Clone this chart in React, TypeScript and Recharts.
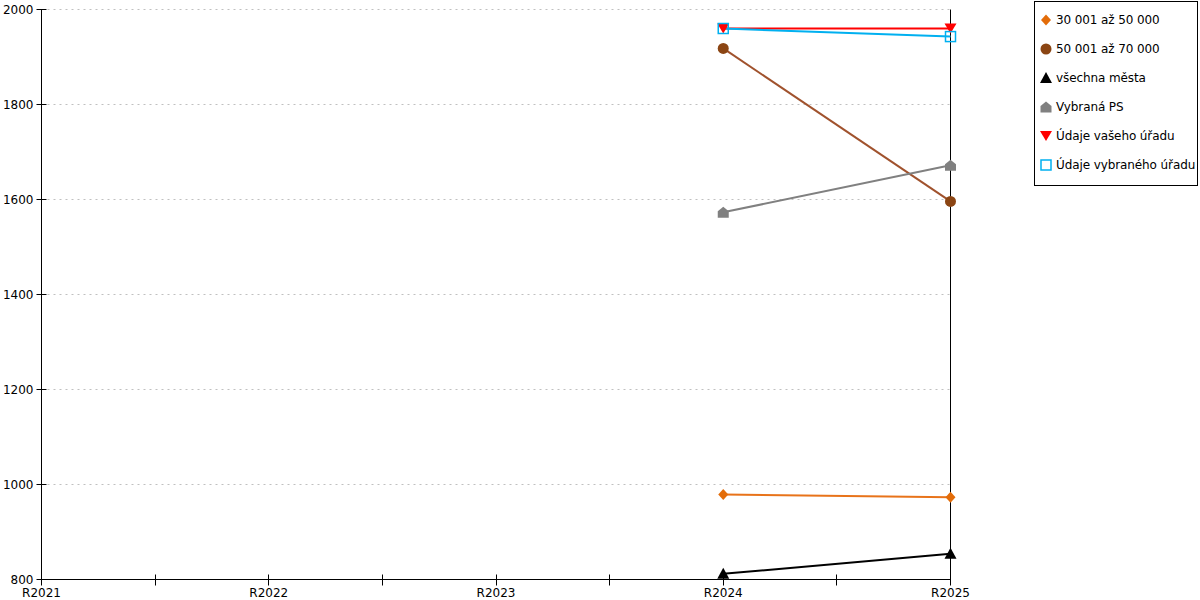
import { LineChart, Line, XAxis, YAxis, CartesianGrid, ReferenceLine } from 'recharts'

const categories = ['R2021', 'R2022', 'R2023', 'R2024', 'R2025']
const pop30to50 = [null, null, null, 979, 973]
const pop50to70 = [null, null, null, 1918, 1596]
const allCities = [null, null, null, 812, 854]
const selectedPS = [null, null, null, 1573, 1672]
const yourOffice = [null, null, null, 1960, 1960]
const selectedOffice = [null, null, null, 1960, 1943]
const yTicks = [800, 1000, 1200, 1400, 1600, 1800, 2000]
const xTicks = [0, 0.5, 1, 1.5, 2, 2.5, 3, 3.5, 4]

const data = categories.map((name, i) => ({
  idx: i,
  name,
  s1: pop30to50[i],
  s2: pop50to70[i],
  s3: allCities[i],
  s4: selectedPS[i],
  s5: yourOffice[i],
  s6: selectedOffice[i],
}))

type Shape = 'diamond' | 'circle' | 'triUp' | 'house' | 'triDown' | 'square'

const SERIES: { key: string; name: string; line: string; fill: string; shape: Shape }[] = [
  { key: 's1', name: '30 001 až 50 000', line: '#E8731A', fill: '#E36C09', shape: 'diamond' },
  { key: 's2', name: '50 001 až 70 000', line: '#A0522D', fill: '#8B4513', shape: 'circle' },
  { key: 's3', name: 'všechna města', line: '#000000', fill: '#000000', shape: 'triUp' },
  { key: 's4', name: 'Vybraná PS', line: '#808080', fill: '#808080', shape: 'house' },
  { key: 's5', name: 'Údaje vašeho úřadu', line: '#FF0000', fill: '#FF0000', shape: 'triDown' },
  { key: 's6', name: 'Údaje vybraného úřadu', line: '#00B0F0', fill: '#00B0F0', shape: 'square' },
]

const FONT = '"DejaVu Sans", Verdana, sans-serif'

function marker(shape: Shape, cx: number, cy: number, fill: string) {
  switch (shape) {
    case 'diamond':
      return <path d={`M${cx},${cy - 5.5} L${cx + 5},${cy} L${cx},${cy + 5.5} L${cx - 5},${cy} Z`} fill={fill} />
    case 'circle':
      return <circle cx={cx} cy={cy} r={5.5} fill={fill} />
    case 'triUp':
      return <path d={`M${cx},${cy - 6} L${cx + 6},${cy + 5} L${cx - 6},${cy + 5} Z`} fill={fill} />
    case 'house':
      return (
        <path
          d={`M${cx - 5.5},${cy + 5.5} L${cx + 5.5},${cy + 5.5} L${cx + 5.5},${cy - 1} L${cx},${cy - 5.5} L${cx - 5.5},${cy - 1} Z`}
          fill={fill}
        />
      )
    case 'triDown':
      return <path d={`M${cx - 6},${cy - 5} L${cx + 6},${cy - 5} L${cx},${cy + 5} Z`} fill={fill} />
    case 'square':
      return <rect x={cx - 5} y={cy - 5} width={10} height={10} fill="none" stroke={fill} strokeWidth={1.5} />
  }
}

const renderDot = (shape: Shape, fill: string) => (props: any) => {
  const { cx, cy, index, value } = props
  if (cx == null || cy == null || value == null) return <g key={`d-${index}`} />
  return <g key={`d-${index}`}>{marker(shape, cx, cy, fill)}</g>
}

// snap to half pixels so 1px tick marks stay crisp
const crisp = (v: number) => Math.round(v - 0.5) + 0.5

const XTick = (props: any) => {
  const { x, y, payload } = props
  const axisY = y - 7
  const v = payload.value
  const isMajor = Number.isInteger(v)
  const cx = crisp(x)
  return (
    <g>
      <line x1={cx} x2={cx} y1={axisY - 5} y2={axisY + 6} stroke="#000" />
      {isMajor && (
        <text x={x} y={axisY + 17} textAnchor="middle" fontSize={12} fontFamily={FONT} fill="#000">
          {categories[v]}
        </text>
      )}
    </g>
  )
}

const YTick = (props: any) => {
  const { x, y, payload } = props
  const cy = crisp(y)
  return (
    <g>
      <line x1={x + 3} x2={x + 13} y1={cy} y2={cy} stroke="#000" />
      <text x={x} y={y + 4} textAnchor="end" fontSize={12} fontFamily={FONT} fill="#000">
        {payload.value}
      </text>
    </g>
  )
}

const LegendBox = () => (
  <div
    style={{
      position: 'absolute',
      left: 1034,
      top: 1,
      border: '1px solid #000',
      width: 162,
      height: 180,
      paddingTop: 3,
      fontFamily: FONT,
      fontSize: 12,
      background: '#fff',
    }}
  >
    {SERIES.map((s) => (
      <div key={s.key} style={{ display: 'flex', alignItems: 'center', height: 29, paddingLeft: 4 }}>
        <svg width={14} height={14} style={{ marginRight: 3 }}>
          {marker(s.shape, 7, 7, s.fill)}
        </svg>
        <span style={{ color: '#000', whiteSpace: 'nowrap', letterSpacing: -0.1 }}>{s.name}</span>
      </div>
    ))}
  </div>
)

export default function App() {
  return (
    <div style={{ position: 'absolute', left: 0, top: 0, width: 1200, height: 600, background: '#fff' }}>
      <LineChart width={1200} height={600} data={data} margin={{ top: 9.5, right: 249.5, bottom: 0.5, left: 0.5 }}>
        <CartesianGrid horizontal vertical={false} stroke="#c0c0c0" strokeDasharray="2 4" />
        <XAxis
          dataKey="idx"
          type="number"
          domain={[0, 4]}
          ticks={xTicks}
          interval={0}
          tickLine={false}
          tickSize={5}
          tickMargin={2}
          axisLine={{ stroke: '#000' }}
          tick={<XTick />}
          height={20}
        />
        <YAxis
          type="number"
          domain={[800, 2000]}
          ticks={yTicks}
          interval={0}
          width={41}
          tickLine={false}
          tickSize={5}
          tickMargin={3}
          axisLine={{ stroke: '#000' }}
          tick={<YTick />}
        />
        <ReferenceLine x={4} stroke="#000" strokeWidth={1} strokeOpacity={1} />
        {SERIES.map((s) => (
          <Line
            key={s.key}
            dataKey={s.key}
            name={s.name}
            type="linear"
            stroke={s.line}
            strokeWidth={2}
            dot={renderDot(s.shape, s.fill)}
            activeDot={false}
            isAnimationActive={false}
          />
        ))}
      </LineChart>
      <LegendBox />
    </div>
  )
}
